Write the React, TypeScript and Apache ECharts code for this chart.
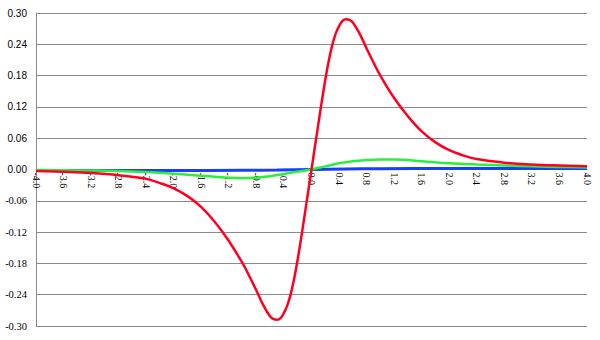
import React, { useEffect, useRef } from "react";
import * as echarts from "echarts";

const yTicks = { min: -0.3, max: 0.3, interval: 0.06 };
const xTicks = { min: -4, max: 4, interval: 0.4 };

const redX = [-4.0, -3.6, -3.2, -2.8, -2.4, -2.2, -2.0, -1.8, -1.6, -1.4, -1.2, -1.0, -0.9, -0.8, -0.7, -0.6, -0.55, -0.5, -0.45, -0.4, -0.35, -0.3, -0.25, -0.2, -0.15, -0.1, -0.05, 0,
  0.05, 0.1, 0.15, 0.2, 0.25, 0.3, 0.35, 0.4, 0.45, 0.5, 0.55, 0.6, 0.7, 0.8, 0.9, 1.0, 1.2, 1.4, 1.6, 1.8, 2.0, 2.2, 2.4, 2.8, 3.2, 3.6, 4.0];
const redY = [-0.003, -0.0045, -0.0068, -0.011, -0.018, -0.026, -0.036, -0.051, -0.072, -0.101, -0.137, -0.18, -0.205, -0.232, -0.26, -0.282, -0.287, -0.288, -0.285, -0.275, -0.26, -0.238, -0.208, -0.172, -0.131, -0.088, -0.044, 0,
  0.044, 0.088, 0.131, 0.172, 0.208, 0.238, 0.26, 0.275, 0.285, 0.288, 0.287, 0.282, 0.26, 0.232, 0.205, 0.18, 0.137, 0.102, 0.073, 0.052, 0.037, 0.027, 0.02, 0.013, 0.0095, 0.0075, 0.006];

const greenX = [-4.0, -3.6, -3.2, -2.8, -2.4, -2.0, -1.6, -1.2, -1.0, -0.8, -0.6, -0.4, -0.2, 0, 0.2, 0.4, 0.6, 0.8, 1.0, 1.2, 1.6, 2.0, 2.4, 2.8, 3.2, 3.6, 4.0];
const greenY = [-0.001, -0.0015, -0.002, -0.003, -0.005, -0.008, -0.012, -0.016, -0.0168, -0.0158, -0.013, -0.0085, -0.004, 0, 0.006, 0.012, 0.016, 0.018, 0.019, 0.019, 0.016, 0.012, 0.0095, 0.0077, 0.006, 0.005, 0.004];

const blueX = [-4.0, -3.0, -2.0, -1.0, -0.5, 0, 0.5, 1.0, 2.0, 3.0, 4.0];
const blueY = [-0.002, -0.002, -0.002, -0.0015, -0.001, 0, 0.001, 0.0015, 0.002, 0.002, 0.002];

const pairs = (xs: number[], ys: number[]) => xs.map((x, i) => [x, ys[i]]);

export default function App() {
  const ref = useRef<HTMLDivElement>(null);
  useEffect(() => {
    if (!ref.current) return;
    const chart = echarts.init(ref.current, undefined, { renderer: "svg" });
    const gridColor = "#8a8a8a";
    const top = 13;
    const bottom = 14;
    const plotH = 340 - top - bottom;
    chart.setOption({
      animation: false,
      backgroundColor: "#ffffff",
      grid: { left: 36, right: 13, top, bottom, containLabel: false, outerBoundsMode: "none" },
      xAxis: {
        type: "value",
        min: xTicks.min,
        max: xTicks.max,
        interval: xTicks.interval,
        position: "bottom",
        offset: -plotH / 2,
        axisLine: { show: true, onZero: false, lineStyle: { color: gridColor, width: 1 } },
        axisTick: { show: false },
        splitLine: { show: false },
        axisLabel: {
          rotate: -90,
          margin: 3,
          showMinLabel: true,
          showMaxLabel: true,
          hideOverlap: false,
          fontFamily: "Liberation Serif",
          fontSize: 10,
          color: "#000",
          formatter: (v: number) => v.toFixed(1),
        },
      },
      yAxis: {
        type: "value",
        min: yTicks.min,
        max: yTicks.max,
        interval: yTicks.interval,
        axisLine: { show: true, onZero: false, lineStyle: { color: gridColor, width: 1 } },
        axisTick: { show: false },
        splitLine: { show: true, lineStyle: { color: gridColor, width: 1 } },
        axisLabel: {
          margin: 9,
          showMinLabel: true,
          showMaxLabel: true,
          formatter: (v: number) => {
            const s = (Math.abs(v) < 1e-9 ? 0 : v).toFixed(2);
            return v < -1e-9 ? `{n|${s}}` : `{p|${s}}`;
          },
          rich: {
            p: { fontFamily: "Liberation Sans", fontSize: 10, color: "#000" },
            n: { fontFamily: "Liberation Serif", fontSize: 10.5, color: "#000" },
          },
        },
      },
      series: [
        {
          type: "line",
          data: pairs(blueX, blueY),
          smooth: 0.4,
          showSymbol: false,
          lineStyle: { color: "#1a3cff", width: 3 },
          z: 2,
        },
        {
          type: "line",
          data: pairs(greenX, greenY),
          smooth: 0.4,
          showSymbol: false,
          lineStyle: { color: "#2cef3a", width: 2.5 },
          z: 3,
        },
        {
          type: "line",
          data: pairs(redX, redY),
          smooth: 0.4,
          showSymbol: false,
          lineStyle: { color: "#ff0022", width: 2.5 },
          z: 4,
        },
      ],
    });
    return () => chart.dispose();
  }, []);
  return <div ref={ref} style={{ width: 600, height: 340, position: "absolute", left: 0, top: 0 }} />;
}
